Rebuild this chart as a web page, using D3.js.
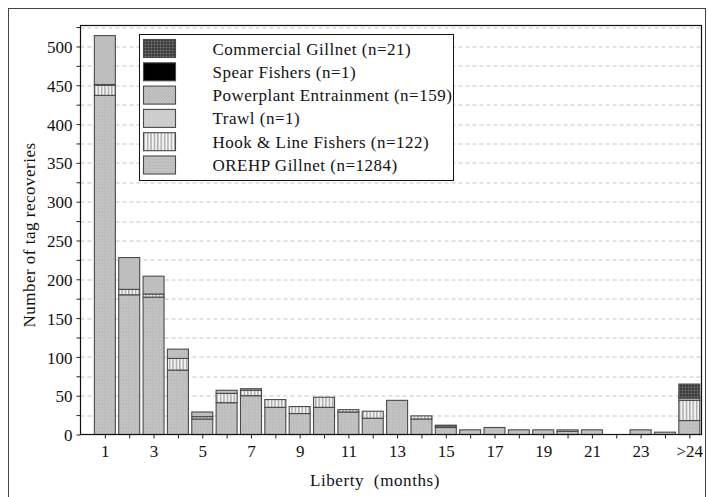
<!DOCTYPE html>
<html>
<head>
<meta charset="utf-8">
<script src="https://cdnjs.cloudflare.com/ajax/libs/d3/7.8.5/d3.min.js"></script>
<style>
  body { margin: 0; background: #fff; }
  svg text { font-family: "Liberation Serif", "Times New Roman", serif; fill: #111; }
</style>
</head>
<body>
<div id="wrapper"></div>
<script>
// categories on the x axis (months at liberty)
const categories = ["1","2","3","4","5","6","7","8","9","10","11","12","13",
    "14","15","16","17","18","19","20","21","22","23","24",">24"]

// series values
const orehpGillnet  = [437,180,177,83,20,41,50,35,27,35,29,21,44,20,9,6,9,6,6,4,6,0,6,3,18]
const hookLine      = [13,7,4,15,3,12,7,10,9,13,3,9,0,4,2,0,0,0,0,2,0,0,0,0,26]
const trawl         = [1,0,0,0,0,0,0,0,0,0,0,0,0,0,0,0,0,0,0,0,0,0,0,0,0]
const powerplant    = [63,41,23,12,6,4,2,0,0,0,0,0,0,0,1,0,0,0,0,0,0,0,0,0,3]
const spearFishers  = [0,0,0,0,0,0,0,0,0,0,0,0,0,0,0,0,0,0,0,0,0,0,0,0,1]
const commercial    = [0,0,0,0,0,0,0,0,0,0,0,0,0,0,0,0,0,0,0,0,0,0,0,0,17]

const seriesKeys = ["orehp", "hook", "trawl", "powerplant", "spear", "commercial"]
const seriesNames = {
    commercial: "Commercial Gillnet (n=21)",
    spear: "Spear Fishers (n=1)",
    powerplant: "Powerplant Entrainment (n=159)",
    trawl: "Trawl (n=1)",
    hook: "Hook & Line Fishers (n=122)",
    orehp: "OREHP Gillnet (n=1284)",
}
const legendOrder = ["commercial", "spear", "powerplant", "trawl", "hook", "orehp"]

const yTicks = d3.range(0, 526, 25)
const xLabelEvery = 2

const yAxisLabelText = "Number of tag recoveries"
const xAxisLabelText = "Liberty  (months)"

// table for d3.stack
const table = categories.map((c, i) => ({
    cat: c,
    idx: i + 1,
    orehp: orehpGillnet[i],
    hook: hookLine[i],
    trawl: trawl[i],
    powerplant: powerplant[i],
    spear: spearFishers[i],
    commercial: commercial[i],
}))

/* dimensions */
let dimensions = {
    width: 708,
    height: 497,
    margin: { top: 25.5, right: 6, bottom: 62.5, left: 80.5 },
}
dimensions.boundedWidth = 621
dimensions.boundedHeight = 409

const wrapper = d3.select("#wrapper")
    .append("svg")
    .attr("width", dimensions.width)
    .attr("height", dimensions.height)

/* patterns */
const defs = wrapper.append("defs")

const pOrehp = defs.append("pattern").attr("id", "p-orehp")
    .attr("patternUnits", "userSpaceOnUse").attr("width", 3).attr("height", 3)
pOrehp.append("rect").attr("width", 3).attr("height", 3).attr("fill", "#c6c6c6")
pOrehp.append("rect").attr("x", 0).attr("y", 0).attr("width", 1).attr("height", 1).attr("fill", "#a4a4a4")
pOrehp.append("rect").attr("x", 1.5).attr("y", 1.5).attr("width", 1).attr("height", 1).attr("fill", "#b0b0b0")

const pHook = defs.append("pattern").attr("id", "p-hook")
    .attr("patternUnits", "userSpaceOnUse").attr("width", 3.4).attr("height", 4)
pHook.append("rect").attr("width", 3.4).attr("height", 4).attr("fill", "#f4f4f4")
pHook.append("rect").attr("x", 0).attr("width", 1.4).attr("height", 4).attr("fill", "#a8a8a8")

const pTrawl = defs.append("pattern").attr("id", "p-trawl")
    .attr("patternUnits", "userSpaceOnUse").attr("width", 3).attr("height", 3)
pTrawl.append("rect").attr("width", 3).attr("height", 3).attr("fill", "#d6d6d6")
pTrawl.append("path").attr("d", "M0,0 L3,3").attr("stroke", "#b2b2b2").attr("stroke-width", 0.8)

const pPower = defs.append("pattern").attr("id", "p-power")
    .attr("patternUnits", "userSpaceOnUse").attr("width", 3).attr("height", 3)
pPower.append("rect").attr("width", 3).attr("height", 3).attr("fill", "#cdcdcd")
pPower.append("path").attr("d", "M0,3 L3,0 M-1,1 L1,-1 M2,4 L4,2")
    .attr("stroke", "#9a9a9a").attr("stroke-width", 0.9)

const pComm = defs.append("pattern").attr("id", "p-comm")
    .attr("patternUnits", "userSpaceOnUse").attr("width", 3).attr("height", 3)
pComm.append("rect").attr("width", 3).attr("height", 3).attr("fill", "#7a7a7a")
pComm.append("path").attr("d", "M0,0.5 H3 M0.5,0 V3")
    .attr("stroke", "#2a2a2a").attr("stroke-width", 1)

const fills = {
    orehp: "url(#p-orehp)",
    hook: "url(#p-hook)",
    trawl: "url(#p-trawl)",
    powerplant: "url(#p-power)",
    spear: "#000",
    commercial: "url(#p-comm)",
}

/* outer frame */
wrapper.append("rect")
    .attr("x", 8.5).attr("y", 8.5)
    .attr("width", 697).attr("height", 500)
    .attr("fill", "none").attr("stroke", "#444").attr("stroke-width", 1)

const bounds = wrapper.append("g")
    .attr("transform", `translate(${dimensions.margin.left}, ${dimensions.margin.top})`)

/* scales */
const xScale = d3.scaleLinear()
    .domain([0, 25.5])
    .range([0, dimensions.boundedWidth])

const yScale = d3.scaleLinear()
    .domain([0, 527])
    .range([dimensions.boundedHeight, 0])

const barWidth = 21

/* gridlines */
bounds.append("g")
    .selectAll("line")
    .data(yTicks.filter(d => d > 0))
    .join("line")
    .attr("x1", 0)
    .attr("x2", dimensions.boundedWidth)
    .attr("y1", d => Math.round(yScale(d)) + 0.5)
    .attr("y2", d => Math.round(yScale(d)) + 0.5)
    .attr("stroke", "#c4c4c4")
    .attr("stroke-width", 1)
    .attr("stroke-dasharray", "4,3")

/* bars */
const stacked = d3.stack().keys(seriesKeys)(table)

bounds.append("g")
    .selectAll("g")
    .data(stacked)
    .join("g")
    .attr("fill", d => fills[d.key])
    .selectAll("rect")
    .data(d => d.filter(s => s[1] - s[0] > 0))
    .join("rect")
    .attr("x", d => xScale(d.data.idx) - barWidth / 2)
    .attr("y", d => yScale(d[1]))
    .attr("width", barWidth)
    .attr("height", d => yScale(d[0]) - yScale(d[1]))
    .attr("stroke", "#4a4a4a")
    .attr("stroke-width", 1.1)

/* axes */
const xAxisGenerator = d3.axisBottom(xScale)
    .tickValues(table.map(d => d.idx))
    .tickFormat((d, i) => i % xLabelEvery === 0 ? categories[i] : "")
    .tickSize(4)
    .tickPadding(6)

const xAxis = bounds.append("g")
    .attr("transform", `translate(0, ${dimensions.boundedHeight})`)
    .call(xAxisGenerator)
xAxis.select(".domain").remove()
xAxis.selectAll("line").attr("stroke", "#222")
xAxis.selectAll("text")
    .style("font-size", "17px")
    .style("font-family", "'Liberation Serif', serif")
    .attr("fill", "#111")

const yAxisGenerator = d3.axisLeft(yScale)
    .tickValues(yTicks)
    .tickFormat(d => d % 50 === 0 ? d : "")
    .tickSize(4)
    .tickPadding(4)

const yAxis = bounds.append("g")
    .call(yAxisGenerator)
yAxis.select(".domain").remove()
yAxis.selectAll("line").attr("stroke", "#222")
yAxis.selectAll("text")
    .attr("dy", "0.36em")
    .style("font-size", "17px")
    .style("font-family", "'Liberation Serif', serif")
    .attr("fill", "#111")

/* plot frame */
bounds.append("rect")
    .attr("x", 0).attr("y", 0)
    .attr("width", dimensions.boundedWidth)
    .attr("height", dimensions.boundedHeight)
    .attr("fill", "none")
    .attr("stroke", "#111")
    .attr("stroke-width", 1.2)

/* axis titles */
wrapper.append("text")
    .attr("x", 375)
    .attr("y", 486)
    .attr("text-anchor", "middle")
    .style("font-size", "17px")
    .style("letter-spacing", "0.6px")
    .style("white-space", "pre")
    .text(xAxisLabelText)

wrapper.append("text")
    .attr("transform", `translate(35, ${dimensions.margin.top + dimensions.boundedHeight / 2 + 5}) rotate(-90)`)
    .attr("text-anchor", "middle")
    .style("font-size", "17px")
    .style("letter-spacing", "0.5px")
    .text(yAxisLabelText)

/* legend */
const legend = wrapper.append("g")
    .attr("transform", "translate(139.5, 34.5)")

legend.append("rect")
    .attr("width", 314)
    .attr("height", 146)
    .attr("fill", "#fff")
    .attr("stroke", "#111")
    .attr("stroke-width", 1)

const rows = legend.selectAll("g.row")
    .data(legendOrder)
    .join("g")
    .attr("class", "row")
    .attr("transform", (d, i) => `translate(4, ${5 + i * 23.3})`)

rows.append("rect")
    .attr("width", 32)
    .attr("height", 18)
    .attr("fill", d => fills[d])
    .attr("stroke", "#4a4a4a")
    .attr("stroke-width", 1.1)

rows.append("text")
    .attr("x", 69)
    .attr("y", 15)
    .style("font-size", "17px")
    .style("letter-spacing", "0.5px")
    .text(d => seriesNames[d])
</script>
</body>
</html>
